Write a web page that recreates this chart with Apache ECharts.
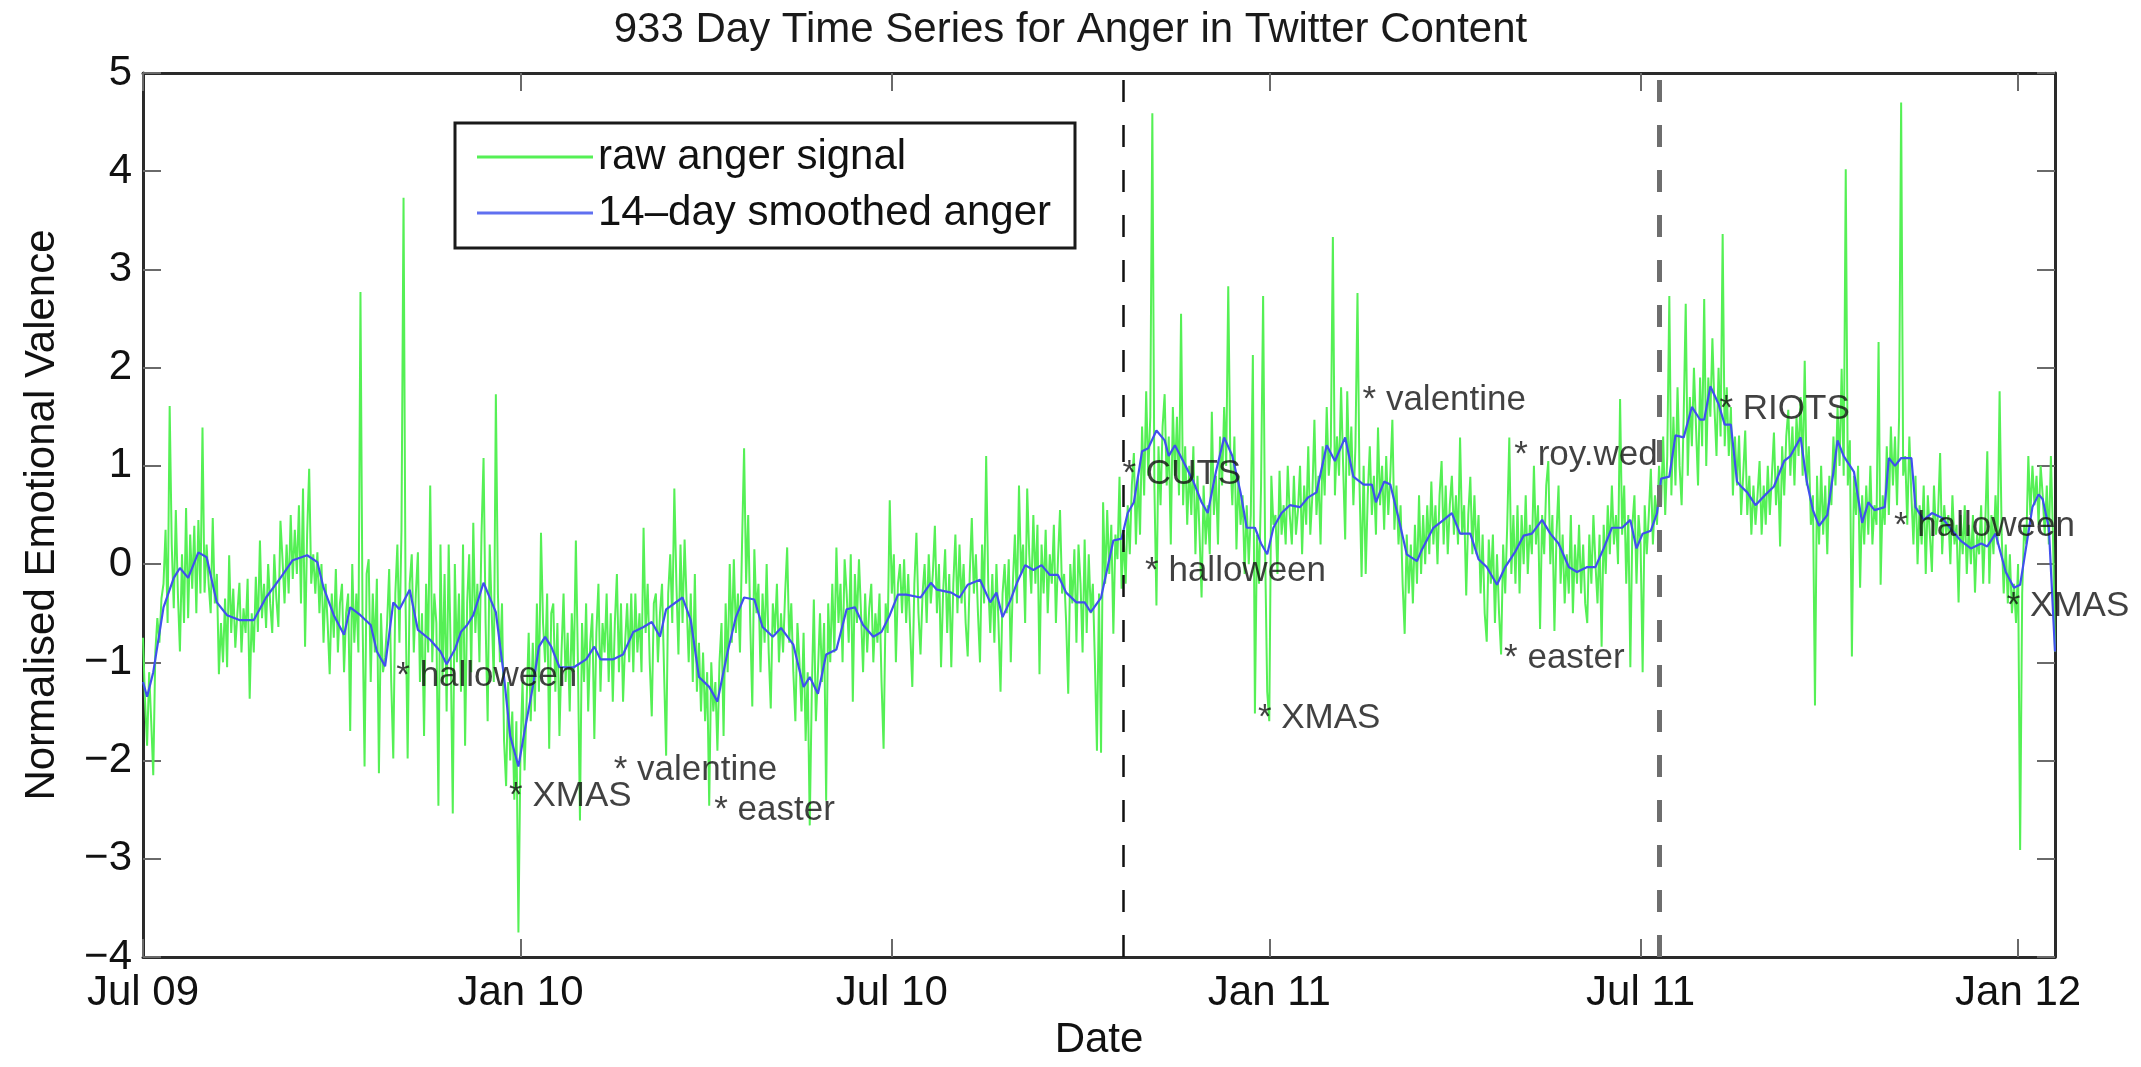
<!DOCTYPE html>
<html>
<head>
<meta charset="utf-8">
<title>933 Day Time Series for Anger in Twitter Content</title>
<script src="https://cdn.jsdelivr.net/npm/echarts@6/dist/echarts.min.js"></script>
<style>
  html, body { margin: 0; padding: 0; background: #fff; }
  #chart { width: 2141px; height: 1067px; }
</style>
</head>
<body>
<div id="chart"></div>
<script>
// x is days since 1 Jul 2009 (933 daily points)
const tickDays = [0, 184, 365, 549, 730, 914]
const tickLabels = ['Jul 09', 'Jan 10', 'Jul 10', 'Jan 11', 'Jul 11', 'Jan 12']

const rawAnger = [
  -0.75,-1.4,-1.85,-1.1,-1.6,-2.15,-0.9,-0.55,-0.8,-0.35,
  -0.2,0.35,-0.6,1.61,0.2,-0.45,0.55,-0.3,-0.89,0.1,
  -0.6,0.57,-0.55,0.3,-0.25,0.39,-0.5,0.45,-0.3,1.39,
  -0.29,0.2,-0.2,-0.5,0.47,-0.4,-0.1,-1.12,-0.6,-1.0,
  -0.35,-1.05,0.09,-0.7,-0.25,-0.85,-0.5,-0.19,-0.9,-0.45,
  -0.7,-0.15,-1.37,-0.5,-0.9,-0.13,-0.69,0.24,-0.55,-0.2,
  -0.65,0.0,-0.4,-0.7,0.1,-0.35,-0.64,0.44,0.05,-0.4,
  0.2,-0.3,0.5,-0.15,0.35,-0.1,0.6,-0.4,0.77,-0.84,
  0.3,0.97,-0.2,0.1,-0.3,0.12,-0.5,0.0,-0.8,-0.2,
  -0.6,-1.12,-0.3,-0.75,-0.05,-0.9,-0.4,-0.2,-1.1,-0.5,
  -0.3,-1.7,0.0,-0.8,-0.3,-0.9,2.77,-0.5,-2.06,-0.1,
  0.05,-1.2,-0.3,-0.9,-0.15,-2.13,-0.5,-1.1,-0.95,-0.6,
  -0.05,-1.2,-1.98,-0.3,0.2,-0.8,0.35,3.73,-0.4,-1.98,
  -0.2,0.1,-0.9,-0.3,0.12,-1.2,-0.5,-1.75,-0.2,-0.9,
  0.8,-1.0,-0.3,-0.6,-2.46,0.2,-1.2,-0.1,-1.5,0.2,
  -0.9,-2.54,0.0,-1.0,-0.3,-1.3,0.2,-1.85,-0.4,0.1,
  -1.1,0.42,-0.7,-0.2,-1.0,0.3,1.08,-0.6,-1.6,0.2,
  -0.5,-1.2,1.73,-0.3,-1.0,-0.4,-1.8,-2.26,-1.2,-2.0,
  -1.5,-2.4,-1.6,-3.75,-1.9,-1.2,-2.1,-1.4,-0.7,-1.6,
  -0.8,-1.5,-0.4,-1.3,0.32,-0.6,-1.0,-0.3,-1.88,-0.5,
  -0.4,-1.3,-0.6,-1.75,-0.9,-0.3,-1.2,-0.7,-1.5,-0.5,
  -1.1,0.24,-1.0,-2.61,-0.6,-1.2,-0.4,-1.5,-0.8,-0.5,
  -1.78,-0.7,-0.2,-1.3,-0.6,-0.9,-0.3,-1.2,-0.5,-1.4,
  -0.6,-0.1,-1.1,-0.4,-1.4,-0.8,-0.4,-1.0,-0.3,-1.1,
  -0.3,-0.9,-0.5,-1.1,0.37,-0.7,-0.2,-1.0,-1.55,-0.4,
  -0.3,-1.0,-0.5,-0.2,-1.1,-1.95,-0.3,0.1,-0.6,0.77,
  -0.2,-0.92,0.2,-0.6,0.25,-0.4,-1.0,-0.3,-1.2,-0.1,
  -1.3,-0.8,-1.5,-0.9,-1.6,-1.1,-2.46,-1.0,-1.5,-1.2,
  -1.9,-1.0,-0.6,-1.75,-0.4,-1.1,0.0,-0.8,0.05,-0.7,
  -0.3,-0.9,0.2,1.18,-0.2,0.5,-0.6,-1.45,0.15,-0.5,
  -0.2,-1.1,-0.3,-0.8,0.0,-0.9,-1.47,-0.4,-0.7,-0.2,
  -1.0,-0.5,-0.9,-0.3,0.17,-0.8,-0.4,-1.1,-1.6,-0.6,
  -1.0,-1.5,-0.7,-1.8,-1.1,-2.66,-1.3,-0.36,-1.6,-1.1,
  -0.5,-1.2,-0.6,-2.41,-0.4,-1.0,-0.2,-0.9,0.17,-0.6,
  -0.2,-1.0,0.05,-0.3,-0.8,0.1,-1.4,-0.1,-0.6,0.05,
  -0.5,-1.1,-0.3,-0.9,-0.45,-0.2,-1.0,-0.5,-0.8,-0.3,
  -1.2,-1.88,-0.4,-0.7,0.65,-0.3,0.1,-1.0,-0.2,0.0,
  -0.5,0.05,-0.6,-0.1,-0.7,-1.25,-0.2,0.32,-0.5,-0.92,
  -0.3,0.0,-0.6,0.1,-0.4,-0.1,0.39,-0.5,0.0,-1.05,
  -0.3,0.15,-0.7,-0.1,-1.05,-0.2,0.3,-0.5,0.2,-0.4,
  0.0,-0.6,-0.94,-0.1,0.47,-0.3,0.1,-0.5,-1.0,0.2,
  -0.4,1.1,-0.2,-0.7,-0.1,-0.8,0.0,-0.6,-1.3,-0.3,
  0.0,-0.5,0.05,-1.0,-0.2,0.3,-0.4,0.8,-0.1,0.2,
  -0.6,0.77,0.1,-0.3,0.5,-0.2,0.4,-1.12,0.2,-0.3,
  0.35,-0.5,0.1,-0.2,0.4,-0.6,0.05,0.55,-0.3,-0.1,
  -0.6,-1.32,0.0,-0.4,0.15,-0.8,0.2,-0.2,-0.9,0.25,
  -0.7,0.1,-0.5,-0.2,-1.0,-1.9,-0.3,-1.92,0.63,-0.2,
  0.55,-0.1,0.4,-0.71,0.3,0.05,0.89,-0.25,0.3,-0.2,
  0.6,0.1,0.8,1.13,0.2,0.9,0.3,1.4,0.7,1.76,
  0.9,1.5,4.59,0.8,-0.42,1.2,0.6,1.4,1.73,0.8,
  1.3,0.2,1.6,0.9,1.5,0.7,2.55,0.6,1.2,0.4,
  1.0,0.5,1.2,0.1,0.9,0.3,-0.34,0.8,0.2,0.6,
  0.1,1.55,0.5,0.9,0.2,1.3,0.8,1.6,1.0,2.83,
  1.1,0.6,1.3,0.15,0.9,0.4,0.7,-0.1,0.6,0.0,
  0.5,2.13,-1.52,0.3,-0.2,0.8,2.73,0.1,-1.3,-1.6,
  0.9,0.4,0.5,-0.1,0.95,0.3,0.6,0.2,1.0,0.5,
  0.2,0.9,0.3,0.55,1.0,0.1,0.8,0.4,1.2,0.3,
  0.7,1.47,0.5,0.9,0.2,1.2,0.7,1.6,0.9,1.2,
  3.33,0.7,1.3,0.9,1.8,1.0,0.25,1.76,0.9,1.4,
  0.6,1.2,2.76,0.8,-0.13,1.0,-0.1,0.7,1.2,0.5,
  0.9,0.3,1.39,0.6,1.0,0.35,1.1,0.5,0.9,1.47,
  0.35,0.8,0.2,0.6,-0.2,-0.71,0.3,-0.3,0.2,-0.4,
  0.4,-0.2,0.7,-0.1,0.5,0.0,0.6,0.1,0.84,0.2,
  0.6,0.0,0.7,1.05,0.2,0.8,0.1,0.6,0.9,0.3,
  0.7,0.2,1.29,0.3,0.6,-0.32,0.5,0.89,0.1,0.7,
  0.1,0.5,-0.3,0.3,-0.5,-0.79,0.25,-0.2,0.3,-0.6,
  0.1,-0.5,-0.92,0.2,-0.3,0.4,1.29,-0.1,0.5,-0.2,
  0.6,-0.3,0.5,0.0,0.7,-0.1,0.4,0.1,1.0,0.2,
  0.6,-0.66,0.5,0.1,0.8,1.05,0.0,0.5,-0.68,0.3,
  0.8,-0.2,0.3,-0.4,0.1,-0.3,0.5,-0.5,0.2,-0.2,
  0.4,-0.3,0.2,-0.4,-0.6,0.3,-0.2,0.5,0.0,-0.4,
  0.3,-0.84,0.4,-0.1,0.6,0.1,0.8,0.2,0.5,0.0,
  1.68,0.3,0.8,-0.2,0.5,-1.05,0.4,0.7,-0.2,0.5,
  0.2,-1.1,0.6,0.1,0.5,0.97,0.2,0.7,0.4,1.0,
  0.6,1.3,0.5,1.1,2.73,0.7,1.5,0.8,1.8,1.0,
  0.6,1.5,2.65,0.9,1.7,1.2,2.0,1.4,0.8,1.9,
  1.2,2.70,1.0,1.9,1.5,2.3,1.6,1.1,2.0,1.3,
  3.36,1.2,1.8,1.1,1.6,0.7,1.3,0.8,1.31,0.5,
  0.9,1.36,0.5,0.9,0.3,0.8,0.4,0.7,1.05,0.3,
  0.8,0.4,1.0,0.5,0.9,1.34,0.6,1.0,0.18,1.2,
  0.7,1.3,1.57,0.9,1.4,0.8,1.5,1.1,1.7,0.9,
  2.07,0.8,1.2,0.4,0.7,-1.44,0.9,0.2,1.0,0.3,
  0.8,0.1,0.9,0.6,1.3,0.8,1.6,1.0,1.99,0.9,
  4.02,0.8,1.26,-0.94,0.9,0.5,1.0,-0.24,0.7,0.2,
  0.8,0.3,1.0,0.2,0.6,0.4,2.26,-0.21,0.7,0.4,
  1.2,0.5,1.4,0.8,1.3,0.6,1.5,4.70,0.9,1.1,
  0.4,1.3,0.7,0.2,0.9,0.0,0.6,0.2,0.8,-0.1,
  0.7,0.3,-0.08,0.8,0.3,0.5,1.13,0.1,0.6,0.3,
  0.5,0.0,0.7,0.2,0.4,-0.39,0.5,0.1,0.6,-0.1,
  0.4,0.0,0.5,-0.29,0.3,0.1,0.6,-0.2,0.4,1.15,
  -0.2,0.5,0.1,0.7,0.2,1.76,0.3,-0.3,0.2,-0.4,
  0.1,-0.5,-0.2,-0.6,0.0,-2.91,-0.3,0.4,0.2,1.10,
  0.5,1.0,0.6,0.9,0.4,1.0,0.7,0.3,0.8,0.2,
  1.10,0.3,-0.89
]

// 14-day smoothed curve at its turning points
const smoothDays = [
  0,2,5,10,15,18,22,27,31,36,41,47,54,60,67,73,80,85,88,93,
  98,101,106,111,114,118,122,125,130,134,140,145,148,152,155,158,161,166,170,172,
  176,179,183,186,190,193,196,199,203,210,216,220,223,229,234,239,244,248,252,255,
  263,267,271,276,280,285,289,293,298,302,307,311,317,322,325,329,333,338,343,347,
  351,356,360,364,368,372,379,384,387,394,398,402,408,413,416,419,423,426,430,434,
  438,442,446,450,455,459,462,467,473,477,480,483,487,490,494,498,500,503,507,512,
  516,519,523,527,531,535,538,542,545,548,551,555,559,564,568,572,577,581,586,590,
  595,599,601,605,608,612,616,621,623,629,634,638,642,647,651,655,660,664,669,673,
  677,682,686,690,695,699,704,708,712,716,721,725,728,731,735,738,740,744,747,751,
  755,759,761,764,768,771,774,777,779,782,786,791,795,800,803,808,811,814,817,821,
  824,826,829,834,838,841,844,849,851,854,857,862,864,868,872,877,882,886,891,896,
  899,903,908,912,915,917,921,924,926,929,932
]
const smoothAnger = [
  -1.2,-1.35,-1.1,-0.44,-0.14,-0.04,-0.14,0.12,0.07,-0.39,-0.52,-0.57,-0.57,-0.34,-0.14,0.04,0.09,0.02,-0.24,-0.52,
  -0.72,-0.44,-0.52,-0.62,-0.89,-1.04,-0.39,-0.46,-0.26,-0.67,-0.77,-0.89,-1.02,-0.87,-0.69,-0.62,-0.52,-0.19,-0.39,-0.49,
  -1.15,-1.75,-2.06,-1.70,-1.25,-0.84,-0.74,-0.84,-1.05,-1.05,-0.97,-0.84,-0.97,-0.97,-0.92,-0.69,-0.64,-0.59,-0.74,-0.46,
  -0.34,-0.57,-1.15,-1.25,-1.40,-0.89,-0.54,-0.34,-0.36,-0.64,-0.74,-0.65,-0.82,-1.25,-1.15,-1.32,-0.92,-0.87,-0.46,-0.44,
  -0.62,-0.74,-0.69,-0.52,-0.31,-0.31,-0.34,-0.19,-0.26,-0.29,-0.34,-0.21,-0.16,-0.39,-0.29,-0.54,-0.36,-0.19,-0.01,-0.06,
  -0.01,-0.11,-0.11,-0.29,-0.39,-0.39,-0.49,-0.34,0.24,0.26,0.52,0.63,1.15,1.18,1.36,1.26,1.10,1.21,1.05,0.84,
  0.63,0.52,0.94,1.29,1.10,0.73,0.37,0.37,0.21,0.10,0.37,0.52,0.60,0.58,0.68,0.73,1.21,1.05,1.29,0.89,
  0.81,0.81,0.63,0.84,0.81,0.47,0.10,0.03,0.13,0.37,0.45,0.52,0.31,0.31,0.05,-0.03,-0.21,-0.03,0.13,0.29,
  0.31,0.45,0.31,0.21,-0.03,-0.08,-0.03,-0.03,0.16,0.37,0.37,0.45,0.16,0.31,0.34,0.52,0.87,0.89,1.31,1.29,
  1.60,1.47,1.47,1.81,1.63,1.42,1.42,0.84,0.79,0.73,0.60,0.71,0.79,1.05,1.10,1.29,0.84,0.55,0.39,0.50,
  0.94,1.26,1.10,0.94,0.42,0.63,0.55,0.58,1.08,1.0,1.08,1.08,0.58,0.45,0.52,0.47,0.34,0.24,0.16,0.21,
  0.18,0.31,-0.08,-0.24,-0.21,0.05,0.58,0.71,0.66,0.37,-0.89
]

// event notes written on the chart
const noteDays = [122, 177, 228, 277, 476, 487, 542, 593, 662, 667, 767, 852, 907]
const noteValues = [-1.14, -2.36, -2.10, -2.51, 0.91, -0.07, -1.57, 1.67, -0.96, 1.11, 1.58, 0.38, -0.43]
const noteTexts = ['halloween', 'XMAS', 'valentine', 'easter', 'CUTS', 'halloween', 'XMAS',
  'valentine', 'easter', 'roy.wed', 'RIOTS', 'halloween', 'XMAS']

// dashed markers: spending cuts, riots period
const eventDays = [478, 739]

const font = '"Liberation Sans", Arial, Helvetica, sans-serif'
const frame = {show: true, onZero: false, lineStyle: {color: '#2a2a2a', width: 3}}
const ticks = {show: true, inside: true, length: 18, lineStyle: {color: '#6a6a6a', width: 2}}

const chart = echarts.init(document.getElementById('chart'))
chart.setOption({
  animation: false,
  backgroundColor: '#fff',
  textStyle: {fontFamily: font},
  title: {
    text: '933 Day Time Series for Anger in Twitter Content',
    left: 'center',
    top: 4,
    textStyle: {fontFamily: font, fontSize: 42, fontWeight: 'normal', color: '#1a1a1a'}
  },
  grid: {left: 143, right: 86, top: 73, bottom: 110},
  legend: {
    data: ['raw anger signal', '14\u2013day smoothed anger'],
    orient: 'vertical',
    left: 455,
    top: 123,
    padding: [12, 24, 13, 22],
    itemGap: 12,
    icon: 'rect',
    itemWidth: 116,
    itemHeight: 3,
    borderColor: '#1a1a1a',
    borderWidth: 3,
    backgroundColor: '#fff',
    textStyle: {fontFamily: font, fontSize: 42, color: '#111', lineHeight: 44}
  },
  xAxis: [
    {
      type: 'value', min: 0, max: 932, position: 'bottom',
      name: 'Date', nameLocation: 'middle', nameGap: 62,
      nameTextStyle: {fontFamily: font, fontSize: 42, color: '#111'},
      axisLine: frame,
      axisTick: {...ticks, customValues: tickDays},
      axisLabel: {
        customValues: tickDays, margin: 15, fontSize: 42, color: '#111', fontFamily: font,
        formatter: v => tickLabels[tickDays.indexOf(v)] || ''
      },
      splitLine: {show: false}
    },
    {
      type: 'value', min: 0, max: 932, position: 'top',
      axisLine: frame,
      axisTick: {...ticks, customValues: tickDays},
      axisLabel: {show: false},
      splitLine: {show: false}
    }
  ],
  yAxis: [
    {
      type: 'value', min: -4, max: 5, interval: 1, position: 'left',
      name: 'Normalised Emotional Valence', nameLocation: 'middle', nameGap: 80, nameRotate: 90,
      nameTextStyle: {fontFamily: font, fontSize: 42, color: '#111'},
      axisLine: frame,
      axisTick: ticks,
      axisLabel: {
        margin: 11, fontSize: 42, color: '#111', fontFamily: font,
        formatter: v => String(v).replace('-', '\u2212')
      },
      splitLine: {show: false}
    },
    {
      type: 'value', min: -4, max: 5, interval: 1, position: 'right',
      axisLine: frame,
      axisTick: ticks,
      axisLabel: {show: false},
      splitLine: {show: false}
    }
  ],
  series: [
    {
      name: 'raw anger signal',
      type: 'line',
      data: rawAnger.map((v, i) => [i, v]),
      symbol: 'none',
      sampling: null,
      lineStyle: {color: '#55f055', width: 2},
      itemStyle: {color: '#55f055'},
      z: 2
    },
    {
      name: '14\u2013day smoothed anger',
      type: 'line',
      data: smoothDays.map((d, i) => [d, smoothAnger[i]]),
      symbol: 'none',
      lineStyle: {color: '#4050ee', width: 2.2},
      itemStyle: {color: '#6070f0'},
      z: 3,
      markLine: {
        silent: true,
        symbol: ['none', 'none'],
        label: {show: false},
        data: [
          {xAxis: eventDays[0], lineStyle: {color: '#111', width: 2.5, type: [22, 23]}},
          {xAxis: eventDays[1], lineStyle: {color: '#6e6e6e', width: 5, type: [22, 23]}}
        ]
      }
    },
    {
      type: 'scatter',
      data: noteDays.map((d, i) => [d, noteValues[i], noteTexts[i]]),
      symbolSize: 0,
      z: 5,
      label: {
        show: true,
        position: 'right',
        distance: 3,
        fontFamily: font,
        fontSize: 35,
        color: '#111',
        formatter: p => '* ' + p.data[2]
      }
    }
  ]
})
</script>
</body>
</html>
